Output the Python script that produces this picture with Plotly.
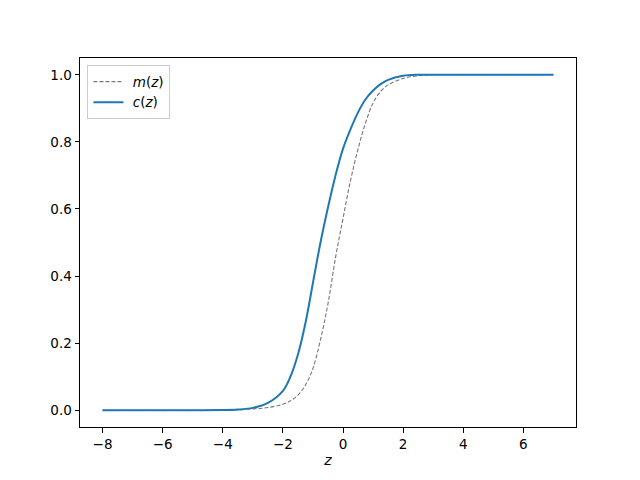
import plotly.graph_objects as go

z_c = [-8, -6, -4, -3.5, -3, -2.5, -2, -1.75, -1.5, -1.25, -1, -0.75, -0.5, -0.25, 0, 0.25, 0.5, 0.75, 1, 1.25, 1.5, 2, 2.5, 3, 4, 5, 6, 7]
c_vals = [0, 0, 0.0005, 0.002, 0.007, 0.022, 0.058, 0.1, 0.166, 0.26, 0.38, 0.5, 0.605, 0.7, 0.78, 0.838, 0.888, 0.927, 0.953, 0.972, 0.985, 0.997, 1.0, 1.0, 1.0, 1.0, 1.0, 1.0]

z_m = [-8, -6, -4, -3.5, -3, -2.5, -2, -1.75, -1.5, -1.25, -1, -0.75, -0.5, -0.25, 0, 0.25, 0.5, 0.75, 1, 1.25, 1.5, 2, 2.5, 3, 4, 5, 6, 7]
m_vals = [0, 0, 0.0005, 0.0015, 0.004, 0.008, 0.018, 0.028, 0.045, 0.075, 0.125, 0.21, 0.318, 0.455, 0.572, 0.685, 0.779, 0.857, 0.916, 0.95, 0.97, 0.989, 0.997, 1.0, 1.0, 1.0, 1.0, 1.0]

x_ticks = [-8, -6, -4, -2, 0, 2, 4, 6]
y_ticks = [0.0, 0.2, 0.4, 0.6, 0.8, 1.0]

fig = go.Figure()
fig.add_trace(go.Scatter(x=z_m, y=m_vals, mode="lines", name=" <i>m</i>(<i>z</i>)",
                         line=dict(color="#777777", width=1.1, dash="4px,2px", shape="spline", smoothing=1)))
fig.add_trace(go.Scatter(x=z_c, y=c_vals, mode="lines", name=" <i>c</i>(<i>z</i>)",
                         line=dict(color="#1f77b4", width=2, shape="spline", smoothing=1)))

axis_common = dict(showgrid=False, zeroline=False, showline=True, linecolor="black", linewidth=1,
                   mirror=True, ticks="outside", ticklen=4.5, tickwidth=1, tickcolor="black",
                   tickfont=dict(family="DejaVu Sans", size=13.5, color="black"))
fig.update_xaxes(range=[-8.75, 7.75], tickvals=x_ticks, ticktext=[str(t).replace("-", "\u2212") for t in x_ticks],
                 title=dict(text="<i>z</i>", font=dict(family="DejaVu Sans", size=14, color="black"), standoff=4),
                 **axis_common)
fig.update_yaxes(range=[-0.05, 1.05], tickvals=y_ticks, ticktext=[f"{t:.1f}" for t in y_ticks], **axis_common)

fig.update_layout(width=640, height=480, margin=dict(l=72, r=72, t=50, b=61),
                  plot_bgcolor="white", paper_bgcolor="white",
                  legend=dict(x=0.015, y=0.98, xanchor="left", yanchor="top",
                              bgcolor="rgba(255,255,255,0.8)", bordercolor="#cccccc", borderwidth=1,
                              font=dict(family="DejaVu Sans", size=13.5, color="black"),
                              tracegroupgap=0, itemwidth=30),
                  showlegend=True)
fig.write_html("out.html")
